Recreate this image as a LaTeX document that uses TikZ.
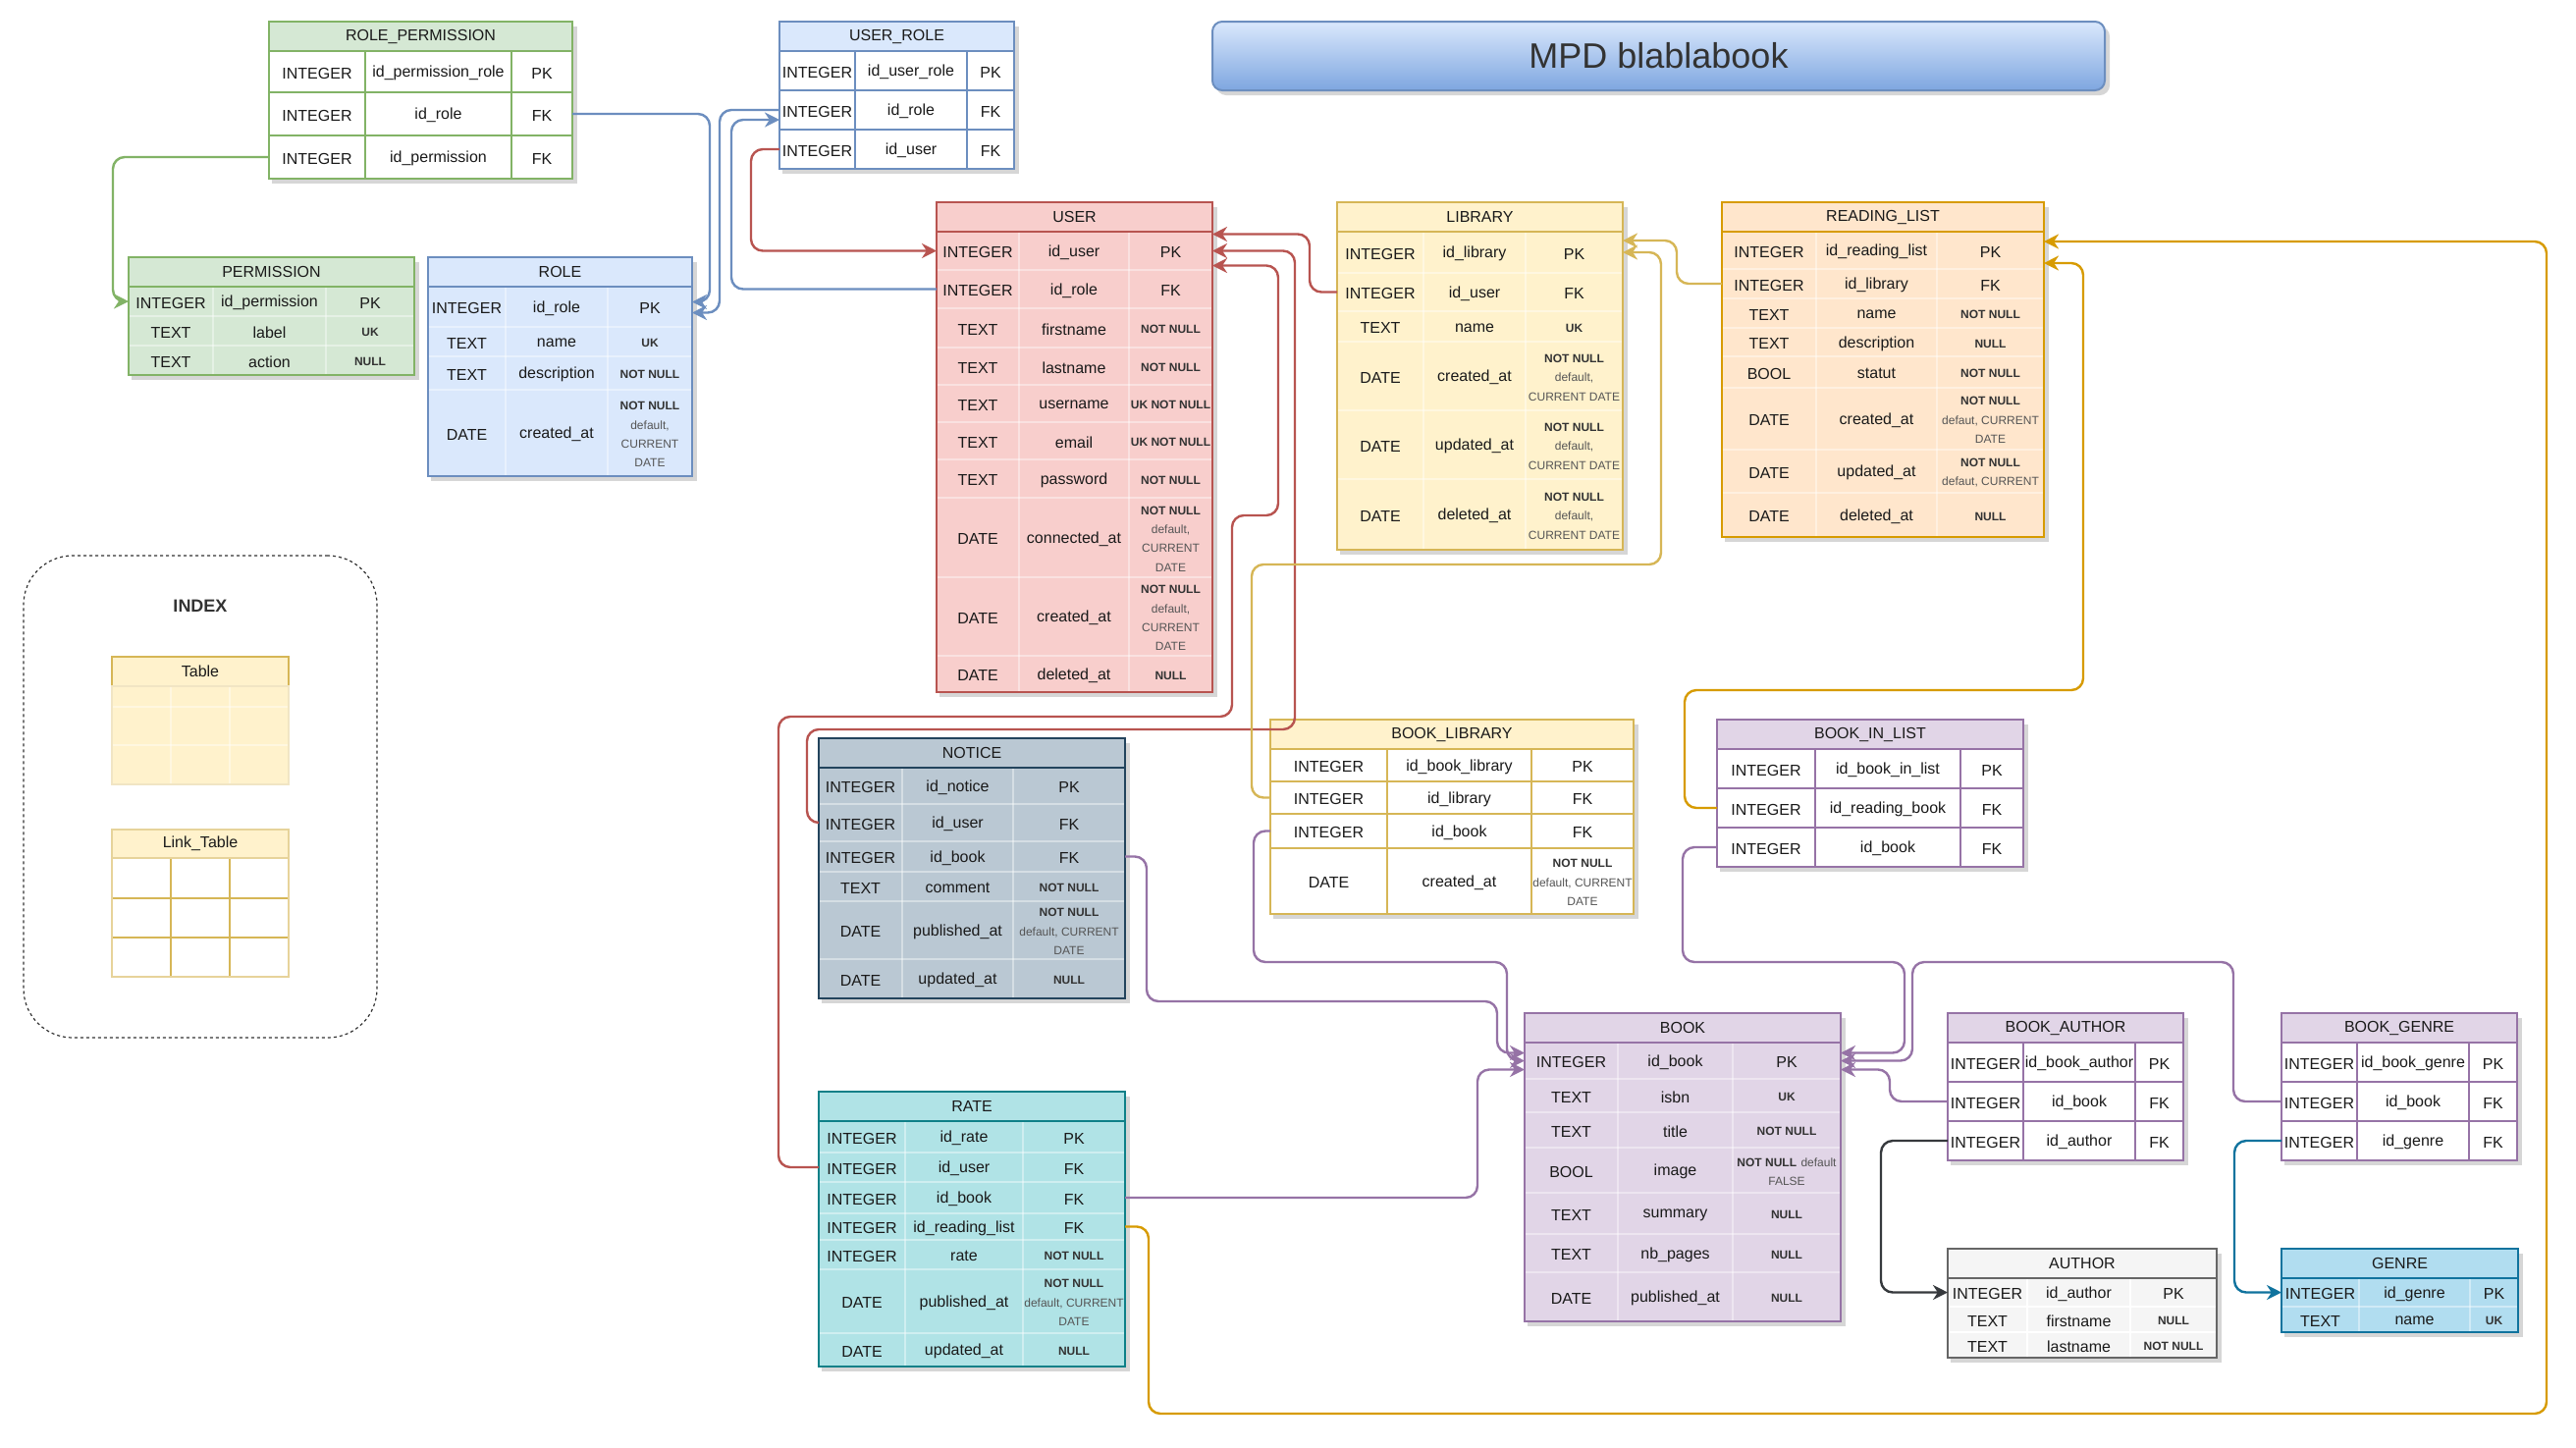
\documentclass[tikz,border=0pt]{standalone}
\usepackage{fontspec}
\setmainfont{Liberation Sans}
\usetikzlibrary{arrows.meta,calc}
\definecolor{gF}{HTML}{D5E8D4}\definecolor{gS}{HTML}{82B366}
\definecolor{bF}{HTML}{DAE8FC}\definecolor{bS}{HTML}{6C8EBF}
\definecolor{rF}{HTML}{F8CECC}\definecolor{rS}{HTML}{B85450}
\definecolor{yF}{HTML}{FFF2CC}\definecolor{yS}{HTML}{D6B656}
\definecolor{oF}{HTML}{FFE6CC}\definecolor{oS}{HTML}{D79B00}
\definecolor{nF}{HTML}{BAC8D3}\definecolor{nS}{HTML}{23445D}
\definecolor{pF}{HTML}{E1D5E7}\definecolor{pS}{HTML}{9673A6}
\definecolor{aF}{HTML}{F5F5F5}\definecolor{aS}{HTML}{666666}
\definecolor{geF}{HTML}{B1DDF0}\definecolor{geS}{HTML}{10739E}
\definecolor{raF}{HTML}{B0E3E6}\definecolor{raS}{HTML}{0E8088}
\definecolor{dk}{HTML}{36393D}
\definecolor{cst}{HTML}{333333}
\definecolor{cdf}{HTML}{555555}
\definecolor{tx}{HTML}{1A1A1A}
\definecolor{tgA}{HTML}{7EA6E0}
\newif\ifshad \shadtrue
\newcommand\kb[1]{{\fontsize{6}{9.7}\selectfont\bfseries\color{cst}#1}}
\newcommand\kd[1]{{\fontsize{6}{9.7}\selectfont\color{cdf}#1}}
\newcommand\tabcols[4]{\def\cA{#1}\def\cB{#2}\def\cC{#3}\def\cD{#4}}
\newcommand\tabstart[9]{%
  \tikzset{tgrid/.style={#8}}%
  \def\tbH{#3}\def\tbB{#4}%
  \ifshad\fill[black,opacity=.16] ({\cA+3},{#2+5}) rectangle ({\cD+5},{#4+5});\fi
  \fill[#7] (\cA,#3) rectangle (\cD,#4);
  \draw[tgrid] (\cB,#3) -- (\cB,#4) (\cC,#3) -- (\cC,#4);
  \pgfmathsetmacro\tabW{(\cD-\cA)/2}\pgfmathsetmacro\tabHt{(#3-#2)/2}%
  \node[headbox,fill=#5,draw=#6,minimum width=\tabW pt,minimum height=\tabHt pt] (#1) at ({(\cA+\cD)/2},{(#2+#3)/2}) {#9};
}
\newcommand\trow[6]{%
  \pgfmathsetmacro\tabW{(\cD-\cA)/2}\pgfmathsetmacro\tabHt{(#3-#2)/2}%
  \node[rowbox,minimum width=\tabW pt,minimum height=\tabHt pt] (#1) at ({(\cA+\cD)/2},{(#2+#3)/2}) {};
  \draw[tgrid] (\cA,#3) -- (\cD,#3);
  \node[celltxt] (#1a) at ({(\cA+\cB)/2},{(#2+#3)/2+1.5}) {#4};
  \node[celltxt] (#1b) at ({(\cB+\cC)/2},{(#2+#3)/2+1.5}) {#5};
  \node[celltxt] (#1c) at ({(\cC+\cD)/2},{(#2+#3)/2+1.5}) {#6};
}
\newcommand\tabend[1]{\draw[#1,line width=1pt] (\cA,\tbH) rectangle (\cD,\tbB);}
\tikzset{
  headbox/.style={rectangle,inner sep=0pt,outer sep=0pt,line width=1pt,font=\fontsize{8}{9.7}\selectfont,text=tx},
  rowbox/.style={rectangle,inner sep=0pt,outer sep=0pt},
  celltxt/.style={inner sep=0pt,align=center,font=\fontsize{8}{9.7}\selectfont,text=tx},
  faint/.style={white,opacity=.4,line width=.8pt},
  fk/.style={line width=1.2pt,rounded corners=6pt,-{Stealth[length=7.5pt,width=7.5pt]}},
}
\newcommand\ndef{\kb{NOT NULL}\\\kd{default,}\\\kd{CURRENT}\\\kd{DATE}}
\newcommand\ndefb{\kb{NOT NULL}\\\kd{default,}\\\kd{CURRENT DATE}}
\newcommand\ndefc{\kb{NOT NULL}\\\kd{default, CURRENT}\\\kd{DATE}}
\begin{document}
\begin{tikzpicture}[x=0.5pt,y=-0.5pt]
\fill[white] (0,0) rectangle (2624,1474);
\useasboundingbox (0,0) rectangle (2624,1474);

% title
\fill[black,opacity=.16,rounded corners=5pt] (1239,27) rectangle (2149,97);
\node[draw=bS,line width=1pt,rounded corners=5pt,top color=bF,bottom color=tgA,minimum width=454.5pt,minimum height=35pt,inner sep=0pt,font=\fontsize{18}{20}\selectfont,text=cst] (title) at (1689.5,57) {MPD blablabook};

% index
\node[draw=cst,rounded corners=25pt,minimum width=180pt,minimum height=245.5pt,inner sep=0pt,line width=.6pt,dash pattern=on 1.5pt off 1.5pt] (indexbox) at (204,811.5) {};
\node[font=\fontsize{9}{11}\selectfont\bfseries,text=cst] (indexlbl) at (204,617) {INDEX};
\shadfalse
\tabcols{114}{174}{234}{294}
\tabstart{ixt}{669}{699}{799}{yF}{yS}{yF}{faint}{Table}
\trow{ixt1}{699}{720}{}{}{}
\trow{ixt2}{720}{759}{}{}{}
\trow{ixt3}{759}{799}{}{}{}
\tabend{yS!35!white}
\tabstart{ixl}{845}{874}{995}{yF}{yS!60!white}{white}{yS,line width=1pt}{Link\_Table}
\trow{ixl1}{874}{915}{}{}{}
\trow{ixl2}{915}{955}{}{}{}
\trow{ixl3}{955}{995}{}{}{}
\tabend{yS!60!white}
\shadtrue

% ROLE_PERMISSION
\tabcols{274}{372}{521}{583}
\tabstart{rp}{22}{52}{182}{gF}{gS}{white}{gS,line width=1pt}{ROLE\_PERMISSION}
\trow{rp1}{52}{94}{INTEGER}{id\_permission\_role}{PK}
\trow{rp2}{94}{138}{INTEGER}{id\_role}{FK}
\trow{rp3}{138}{182}{INTEGER}{id\_permission}{FK}
\tabend{gS}

% USER_ROLE
\tabcols{794}{871}{985}{1033}
\tabstart{ur}{22}{52}{172}{bF}{bS}{white}{bS,line width=1pt}{USER\_ROLE}
\trow{ur1}{52}{92}{INTEGER}{id\_user\_role}{PK}
\trow{ur2}{92}{132}{INTEGER}{id\_role}{FK}
\trow{ur3}{132}{172}{INTEGER}{id\_user}{FK}
\tabend{bS}

% PERMISSION
\tabcols{131}{217}{332}{422}
\tabstart{perm}{262}{292}{382}{gF}{gS}{gF}{faint}{PERMISSION}
\trow{perm1}{292}{322}{INTEGER}{id\_permission}{PK}
\trow{perm2}{322}{352}{TEXT}{label}{\kb{UK}}
\trow{perm3}{352}{382}{TEXT}{action}{\kb{NULL}}
\tabend{gS}

% ROLE
\tabcols{436}{515}{619}{705}
\tabstart{role}{262}{292}{485}{bF}{bS}{bF}{faint}{ROLE}
\trow{role1}{292}{333}{INTEGER}{id\_role}{PK}
\trow{role2}{333}{363}{TEXT}{name}{\kb{UK}}
\trow{role3}{363}{397}{TEXT}{description}{\kb{NOT NULL}}
\trow{role4}{397}{485}{DATE}{created\_at}{\ndef}
\tabend{bS}

% USER
\tabcols{954}{1038}{1150}{1235}
\tabstart{user}{206}{236}{705}{rF}{rS}{rF}{faint}{USER}
\trow{user1}{236}{275}{INTEGER}{id\_user}{PK}
\trow{user2}{275}{314}{INTEGER}{id\_role}{FK}
\trow{user3}{314}{354}{TEXT}{firstname}{\kb{NOT NULL}}
\trow{user4}{354}{392}{TEXT}{lastname}{\kb{NOT NULL}}
\trow{user5}{392}{430}{TEXT}{username}{\kb{UK NOT NULL}}
\trow{user6}{430}{468}{TEXT}{email}{\kb{UK NOT NULL}}
\trow{user7}{468}{507}{TEXT}{password}{\kb{NOT NULL}}
\trow{user8}{507}{588}{DATE}{connected\_at}{\ndef}
\trow{user9}{588}{668}{DATE}{created\_at}{\ndef}
\trow{user10}{668}{705}{DATE}{deleted\_at}{\kb{NULL}}
\tabend{rS}

% LIBRARY
\tabcols{1362}{1450}{1554}{1653}
\tabstart{lib}{206}{236}{560}{yF}{yS}{yF}{faint}{LIBRARY}
\trow{lib1}{236}{278}{INTEGER}{id\_library}{PK}
\trow{lib2}{278}{317}{INTEGER}{id\_user}{FK}
\trow{lib3}{317}{348}{TEXT}{name}{\kb{UK}}
\trow{lib4}{348}{418}{DATE}{created\_at}{\ndefb}
\trow{lib5}{418}{488}{DATE}{updated\_at}{\ndefb}
\trow{lib6}{488}{560}{DATE}{deleted\_at}{\ndefb}
\tabend{yS}

% READING_LIST
\tabcols{1754}{1850}{1973}{2082}
\tabstart{rl}{206}{236}{547}{oF}{oS}{oF}{faint}{READING\_LIST}
\trow{rl1}{236}{274}{INTEGER}{id\_reading\_list}{PK}
\trow{rl2}{274}{304}{INTEGER}{id\_library}{FK}
\trow{rl3}{304}{334}{TEXT}{name}{\kb{NOT NULL}}
\trow{rl4}{334}{363}{TEXT}{description}{\kb{NULL}}
\trow{rl5}{363}{395}{BOOL}{statut}{\kb{NOT NULL}}
\trow{rl6}{395}{458}{DATE}{created\_at}{\kb{NOT NULL}\\\kd{defaut, CURRENT}\\\kd{DATE}}
\trow{rl7}{458}{502}{DATE}{updated\_at}{\kb{NOT NULL}\\\kd{defaut, CURRENT}}
\trow{rl8}{502}{547}{DATE}{deleted\_at}{\kb{NULL}}
\tabend{oS}

% NOTICE
\tabcols{834}{919}{1032}{1146}
\tabstart{notice}{752}{782}{1017}{nF}{nS}{nF}{faint}{NOTICE}
\trow{no1}{782}{819}{INTEGER}{id\_notice}{PK}
\trow{no2}{819}{857}{INTEGER}{id\_user}{FK}
\trow{no3}{857}{888}{INTEGER}{id\_book}{FK}
\trow{no4}{888}{918}{TEXT}{comment}{\kb{NOT NULL}}
\trow{no5}{918}{977}{DATE}{published\_at}{\ndefc}
\trow{no6}{977}{1017}{DATE}{updated\_at}{\kb{NULL}}
\tabend{nS}

% BOOK_LIBRARY
\tabcols{1294}{1413}{1560}{1664}
\tabstart{bl}{733}{763}{931}{yF}{yS}{white}{yS,line width=1pt}{BOOK\_LIBRARY}
\trow{bl1}{763}{796}{INTEGER}{id\_book\_library}{PK}
\trow{bl2}{796}{829}{INTEGER}{id\_library}{FK}
\trow{bl3}{829}{864}{INTEGER}{id\_book}{FK}
\trow{bl4}{864}{931}{DATE}{created\_at}{\ndefc}
\tabend{yS}

% BOOK_IN_LIST
\tabcols{1749}{1849}{1997}{2061}
\tabstart{bil}{733}{763}{883}{pF}{pS}{white}{pS,line width=1pt}{BOOK\_IN\_LIST}
\trow{bil1}{763}{803}{INTEGER}{id\_book\_in\_list}{PK}
\trow{bil2}{803}{843}{INTEGER}{id\_reading\_book}{FK}
\trow{bil3}{843}{883}{INTEGER}{id\_book}{FK}
\tabend{pS}

% BOOK
\tabcols{1553}{1648}{1765}{1875}
\tabstart{book}{1032}{1062}{1346}{pF}{pS}{pF}{faint}{BOOK}
\trow{bk1}{1062}{1099}{INTEGER}{id\_book}{PK}
\trow{bk2}{1099}{1133}{TEXT}{isbn}{\kb{UK}}
\trow{bk3}{1133}{1169}{TEXT}{title}{\kb{NOT NULL}}
\trow{bk4}{1169}{1215}{BOOL}{image}{\kb{NOT NULL} \kd{default}\\\kd{FALSE}}
\trow{bk5}{1215}{1257}{TEXT}{summary}{\kb{NULL}}
\trow{bk6}{1257}{1296}{TEXT}{nb\_pages}{\kb{NULL}}
\trow{bk7}{1296}{1346}{DATE}{published\_at}{\kb{NULL}}
\tabend{pS}

% BOOK_AUTHOR
\tabcols{1984}{2061}{2175}{2224}
\tabstart{ba}{1032}{1062}{1182}{pF}{pS}{white}{pS,line width=1pt}{BOOK\_AUTHOR}
\trow{ba1}{1062}{1102}{INTEGER}{id\_book\_author}{PK}
\trow{ba2}{1102}{1142}{INTEGER}{id\_book}{FK}
\trow{ba3}{1142}{1182}{INTEGER}{id\_author}{FK}
\tabend{pS}

% BOOK_GENRE
\tabcols{2324}{2401}{2515}{2564}
\tabstart{bg}{1032}{1062}{1182}{pF}{pS}{white}{pS,line width=1pt}{BOOK\_GENRE}
\trow{bg1}{1062}{1102}{INTEGER}{id\_book\_genre}{PK}
\trow{bg2}{1102}{1142}{INTEGER}{id\_book}{FK}
\trow{bg3}{1142}{1182}{INTEGER}{id\_genre}{FK}
\tabend{pS}

% AUTHOR
\tabcols{1984}{2065}{2170}{2258}
\tabstart{auth}{1272}{1302}{1383}{aF}{aS}{aF}{white,line width=.8pt}{AUTHOR}
\trow{au1}{1302}{1331}{INTEGER}{id\_author}{PK}
\trow{au2}{1331}{1357}{TEXT}{firstname}{\kb{NULL}}
\trow{au3}{1357}{1383}{TEXT}{lastname}{\kb{NOT NULL}}
\tabend{aS}

% GENRE
\tabcols{2324}{2403}{2516}{2565}
\tabstart{genre}{1272}{1302}{1357}{geF}{geS}{geF}{faint}{GENRE}
\trow{ge1}{1302}{1331}{INTEGER}{id\_genre}{PK}
\trow{ge2}{1331}{1357}{TEXT}{name}{\kb{UK}}
\tabend{geS}

% RATE
\tabcols{834}{922}{1042}{1146}
\tabstart{rate}{1112}{1142}{1392}{raF}{raS}{raF}{faint}{RATE}
\trow{ra1}{1142}{1174}{INTEGER}{id\_rate}{PK}
\trow{ra2}{1174}{1204}{INTEGER}{id\_user}{FK}
\trow{ra3}{1204}{1236}{INTEGER}{id\_book}{FK}
\trow{ra4}{1236}{1263}{INTEGER}{id\_reading\_list}{FK}
\trow{ra5}{1263}{1293}{INTEGER}{rate}{\kb{NOT NULL}}
\trow{ra6}{1293}{1358}{DATE}{published\_at}{\ndefc}
\trow{ra7}{1358}{1392}{DATE}{updated\_at}{\kb{NULL}}
\tabend{raS}

% connectors
\draw[fk,gS] (rp3.west) -| ($(perm1.west)+(-16,0)$) -- (perm1.west);
\draw[fk,bS] (rp2.east) -| ($(role1.east)+(18,-5)$) -- ($(role1.east)+(0,-5)$);
\draw[fk,bS] (ur2.west) -| ($(role1.east)+(28,6)$) -- ($(role1.east)+(0,6)$);
\draw[fk,bS] (user2.west) -| ($(ur2.west)+(-49,10)$) -- ($(ur2.west)+(0,10)$);
\draw[fk,rS] (ur3.west) -| ($(user1.west)+(-189,0)$) -- (user1.west);
\draw[fk,rS] (lib2.west) -| ($(user1.east)+(99,-17)$) -- ($(user1.east)+(0,-17)$);
\draw[fk,rS] (no2.west) -| (822,743) -| ($(user1.east)+(84,0)$) -- (user1.east);
\draw[fk,rS] (ra2.west) -| (793,730) -| (1255,525) -| ($(user1.east)+(67,15)$) -- ($(user1.east)+(0,15)$);
\draw[fk,yS] (rl2.west) -| ($(lib1.east)+(55,-12)$) -- ($(lib1.east)+(0,-12)$);
\draw[fk,yS] (bl2.west) -| (1275,575) -| ($(lib1.east)+(39,0)$) -- (lib1.east);
\draw[fk,oS] (bil2.west) -| (1716,703) -| ($(rl1.east)+(40,13)$) -- ($(rl1.east)+(0,13)$);
\draw[fk,oS] (ra4.east) -| (1170,1440) -| ($(rl1.east)+(512,-9)$) -- ($(rl1.east)+(0,-9)$);
\draw[fk,pS] (no3.east) -| (1168,1020) -| ($(bk1.west)+(-28,-8)$) -- ($(bk1.west)+(0,-8)$);
\draw[fk,pS] (bl3.west) -| (1277,980) -| ($(bk1.west)+(-18,0)$) -- (bk1.west);
\draw[fk,pS] (ra3.east) -| ($(bk1.west)+(-48,9)$) -- ($(bk1.west)+(0,9)$);
\draw[fk,pS] (bil3.west) -| (1714,980) -| ($(bk1.east)+(65,-8)$) -- ($(bk1.east)+(0,-8)$);
\draw[fk,pS] (bg2.west) -| (2275,980) -| ($(bk1.east)+(73,0)$) -- (bk1.east);
\draw[fk,pS] (ba2.west) -| ($(bk1.east)+(50,9)$) -- ($(bk1.east)+(0,9)$);
\draw[fk,dk] (ba3.west) -| ($(au1.west)+(-68,0)$) -- (au1.west);
\draw[fk,geS] (bg3.west) -| ($(ge1.west)+(-48,0)$) -- (ge1.west);
\end{tikzpicture}
\end{document}
